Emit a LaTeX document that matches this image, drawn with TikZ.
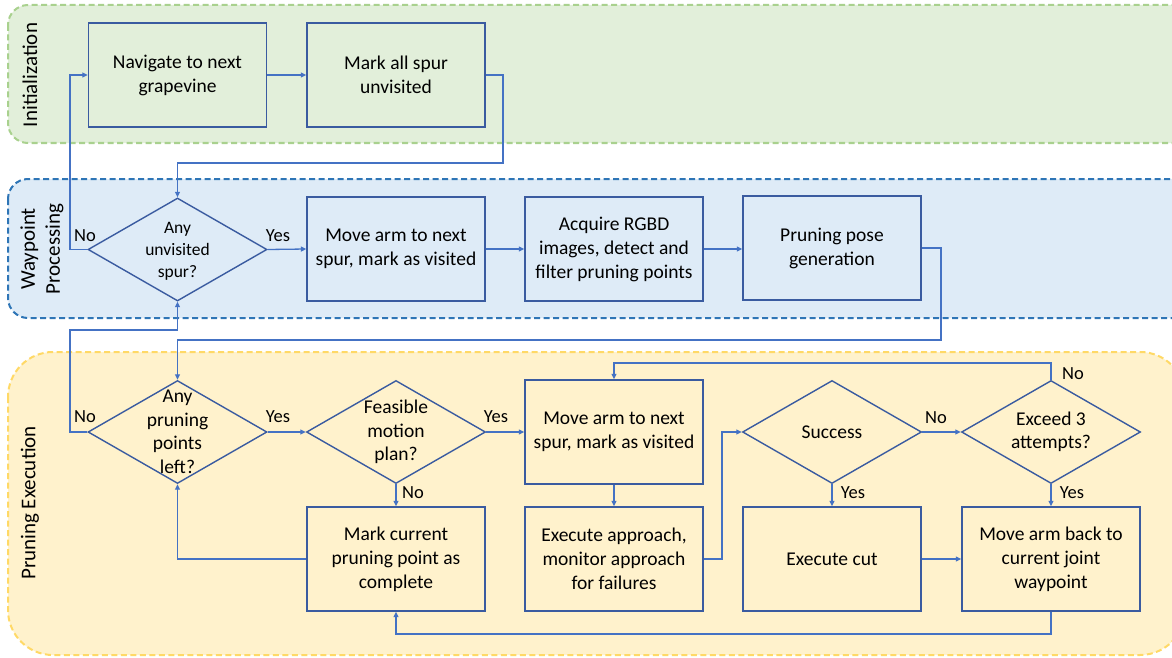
\documentclass[tikz,border=0pt]{standalone}
\usepackage{fontspec}
\setmainfont{Carlito}
\usetikzlibrary{shapes.geometric,arrows.meta}

\definecolor{initfill}{HTML}{E2EFDA}
\definecolor{initline}{HTML}{A9D18E}
\definecolor{wpfill}{HTML}{DEEBF7}
\definecolor{wpline}{HTML}{2E75B6}
\definecolor{pefill}{HTML}{FFF2CC}
\definecolor{peline}{HTML}{FFD966}
\definecolor{boxline}{HTML}{3A5BA0}
\definecolor{flow}{HTML}{4472C4}

\tikzset{
  lane/.style={line width=2pt, dash pattern=on 6pt off 3.5pt},
  stepbox/.style={draw=boxline, line width=1.4pt, rectangle,
    minimum width=178pt, minimum height=104pt, inner sep=0pt,
    align=center, font=\fontsize{19.5}{24}\selectfont},
  decision/.style={draw=boxline, line width=1.4pt, diamond, aspect=1.73,
    minimum width=179pt, minimum height=103pt, inner sep=0pt},
  dtext/.style={align=center, font=\fontsize{19.5}{23.5}\selectfont},
  flowline/.style={draw=flow, line width=1.3pt,
    -{Triangle[length=5.5pt,width=5pt]}},
  tag/.style={font=\fontsize{18.5}{21}\selectfont, inner sep=0pt},
  lanetitle/.style={rotate=90, align=center, font=\fontsize{21}{25}\selectfont}
}

\begin{document}
\begin{tikzpicture}[x=1pt, y=-1pt]
\useasboundingbox (0,0) rectangle (1172,658);

% swimlanes
\draw[lane, draw=initline, fill=initfill, rounded corners=20pt] (8,5) rectangle (1195,143);
\draw[lane, draw=wpline, fill=wpfill, rounded corners=20pt] (8,179) rectangle (1195,318);
\draw[lane, draw=peline, fill=pefill, rounded corners=45pt] (8,352) rectangle (1185,655);

\node[lanetitle] (tinit) at (30,75) {Initialization};
\node[lanetitle] (twp) at (42,249) {Waypoint\\Processing};
\node[lanetitle] (tpe) at (30,503) {Pruning Execution};

% initialization
\node[stepbox] (nav) at (177.5,75) {Navigate to next\\grapevine};
\node[stepbox] (mark) at (396,75) {Mark all spur\\unvisited};

% waypoint processing
\node[decision] (d1) at (177.5,249.5) {};
\node[dtext, font=\fontsize{17.5}{22}\selectfont] (d1t) at (177.5,251) {Any\\unvisited\\spur?};
\node[stepbox] (move1) at (396,249) {Move arm to next\\spur, mark as visited};
\node[stepbox] (acq) at (614,249) {Acquire RGBD\\images, detect and\\filter pruning points};
\node[stepbox] (pose) at (832,248) {Pruning pose\\generation};

% pruning execution
\node[decision] (d2) at (177.5,432) {};
\node[dtext] (d2t) at (177.5,432) {Any\\pruning\\points\\left?};
\node[decision] (d3) at (396,432) {};
\node[dtext] (d3t) at (396,432) {Feasible\\motion\\plan?};
\node[stepbox] (move2) at (614,432) {Move arm to next\\spur, mark as visited};
\node[decision] (d4) at (832,432) {};
\node[dtext] (d4t) at (832,432) {Success};
\node[decision] (d5) at (1051,432) {};
\node[dtext] (d5t) at (1051,432) {Exceed 3\\attempts?};
\node[stepbox] (done) at (396,559) {Mark current\\pruning point as\\complete};
\node[stepbox] (appr) at (614,559) {Execute approach,\\monitor approach\\for failures};
\node[stepbox] (cut) at (832,559) {Execute cut};
\node[stepbox] (back) at (1051,559) {Move arm back to\\current joint\\waypoint};

% connectors
\draw[flowline] (nav) -- (mark);
\draw[flowline] (mark.east) -| (503,163) -| (d1.north);
\draw[flowline] (d1.west) -| (70,75) -- (nav.west);
\node[tag] (no1) at (85,236) {No};
\draw[flowline] (d1.east) -- (move1.west);
\node[tag] (yes1) at (278,236) {Yes};
\draw[flowline] (move1) -- (acq);
\draw[flowline] (acq.east) -- (pose.west |- acq.east);
\draw[flowline] (pose.east) -| (941,340) -| (d2.north);
\draw[flowline] (d2.west) -| (70,330) -| (d1.south);
\node[tag] (no2) at (85,417) {No};
\draw[flowline] (d2.east) -- (d3.west);
\node[tag] (yes2) at (278,417) {Yes};
\draw[flowline] (d3.east) -- (move2.west);
\node[tag] (yes3) at (496,417) {Yes};
\draw[flowline] (d3.south) -- (done.north);
\node[tag] (no3) at (413,493) {No};
\draw[flowline] (done.west) -| (d2.south);
\draw[flowline] (move2) -- (appr);
\draw[flowline] (appr.east) -| (722,432) -- (d4.west);
\draw[flowline] (d4.east) -- (d5.west);
\node[tag] (no4) at (936,418) {No};
\draw[flowline] (d4.south) -- (cut.north);
\node[tag] (yes4) at (853,493) {Yes};
\draw[flowline] (d5.south) -- (back.north);
\node[tag] (yes5) at (1072,493) {Yes};
\draw[flowline] (d5.north) |- (614,363) -- (move2.north);
\node[tag] (no5) at (1073,374) {No};
\draw[flowline] (cut) -- (back);
\draw[flowline] (back.south) |- (396,634) -- (done.south);
\end{tikzpicture}
\end{document}
